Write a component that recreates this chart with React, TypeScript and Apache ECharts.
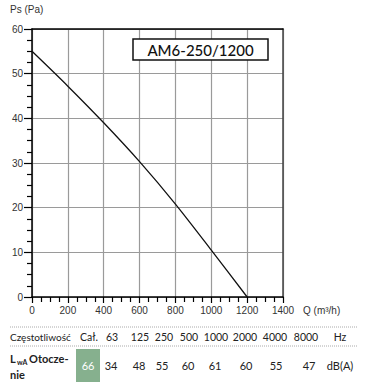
import React, { useEffect, useRef } from "react";
import * as echarts from "echarts";

const flowQ = [0, 200, 400, 600, 800, 1000, 1200];
const pressurePs = [55, 47.2, 39, 30.3, 20.8, 10.5, 0];
const freqLabels = ["Cał.", "63", "125", "250", "500", "1000", "2000", "4000", "8000", "Hz"];
const lwaValues = ["66", "34", "48", "55", "60", "61", "60", "55", "47", "dB(A)"];
const freqX = [89, 112, 140, 164, 189, 216, 245, 275, 306, 340];
const lwaX = [88, 111, 139, 162, 188, 215, 246, 276, 309, 340];
const modelName = "AM6-250/1200";

export default function App() {
  const ref = useRef<HTMLDivElement>(null);
  useEffect(() => {
    const chart = echarts.init(ref.current!, null, { renderer: "svg" });
    const tableFont = "Lato, 'Open Sans', sans-serif";
    const graphics: any[] = [
      {
        type: "text",
        left: 10,
        top: 4,
        style: { text: "Ps (Pa)", fontSize: 10, fontFamily: "'Liberation Sans', Arial", fill: "#333" },
      },
      {
        type: "text",
        left: 303,
        top: 305,
        style: { text: "Q (m³/h)", fontSize: 10, fontFamily: "'Liberation Sans', Arial", fill: "#333" },
      },
      {
        type: "rect",
        shape: { x: 133, y: 39, width: 135, height: 21 },
        style: { fill: "#fff", stroke: "#111", lineWidth: 1.5 },
        z: 10,
      },
      {
        type: "text",
        x: 200.5,
        y: 50,
        style: {
          text: modelName,
          fontSize: 15,
          fontFamily: tableFont,
          fontWeight: 500,
          fill: "#111",
          align: "center",
          verticalAlign: "middle",
        },
        z: 11,
      },
      {
        type: "line",
        shape: { x1: 10, y1: 327, x2: 358, y2: 327 },
        style: { stroke: "#aaa", lineWidth: 1, lineDash: [1, 1] },
      },
      {
        type: "line",
        shape: { x1: 10, y1: 346, x2: 358, y2: 346 },
        style: { stroke: "#aaa", lineWidth: 1, lineDash: [1, 1] },
      },
      {
        type: "text",
        x: 10,
        y: 337,
        style: { text: "Częstotliwość", fontSize: 10, fontFamily: tableFont, fill: "#222", verticalAlign: "middle" },
      },
      {
        type: "rect",
        shape: { x: 76, y: 349, width: 24, height: 33 },
        style: { fill: "#86b08e" },
      },
      {
        type: "text",
        x: 10,
        y: 358,
        style: { text: "L", fontSize: 11, fontWeight: "bold", fontFamily: tableFont, fill: "#222", verticalAlign: "middle" },
      },
      {
        type: "text",
        x: 17,
        y: 362,
        style: { text: "wA", fontSize: 7, fontWeight: "bold", fontFamily: tableFont, fill: "#222", verticalAlign: "middle" },
      },
      {
        type: "text",
        x: 29,
        y: 358,
        style: { text: "Otocze-", fontSize: 11, fontWeight: "bold", fontFamily: tableFont, fill: "#222", verticalAlign: "middle" },
      },
      {
        type: "text",
        x: 10,
        y: 374,
        style: { text: "nie", fontSize: 11, fontWeight: "bold", fontFamily: tableFont, fill: "#222", verticalAlign: "middle" },
      },
    ];
    freqLabels.forEach((t, i) => {
      graphics.push({
        type: "text",
        x: freqX[i],
        y: 337,
        style: { text: t, fontSize: 10.5, fontFamily: tableFont, fill: "#222", align: "center", verticalAlign: "middle" },
      });
    });
    lwaValues.forEach((t, i) => {
      graphics.push({
        type: "text",
        x: lwaX[i],
        y: 365,
        style: {
          text: t,
          fontSize: 11,
          fontFamily: tableFont,
          fill: i === 0 ? "#fff" : "#222",
          align: "center",
          verticalAlign: "middle",
        },
        z: 5,
      });
    });

    chart.setOption({
      animation: false,
      grid: { left: 32, right: 89, top: 29, bottom: 95, containLabel: false },
      xAxis: [
        {
          type: "value",
          min: 0,
          max: 1400,
          interval: 200,
          axisLine: { lineStyle: { color: "#000", width: 1.5 } },
          axisTick: { show: true, length: 6, lineStyle: { color: "#000", width: 1.2 } },
          minorTick: { show: true, splitNumber: 4, length: 5, lineStyle: { color: "#000", width: 1.2 } },
          axisLabel: {
            color: "#333",
            fontSize: 10,
            fontFamily: "'Liberation Sans', Arial",
            margin: 8,
            formatter: (v: number) => String(v),
          },
          splitLine: { show: true, lineStyle: { color: "#9a9a9a", width: 1.2 } },
        },
        {
          type: "value",
          position: "top",
          min: 0,
          max: 1400,
          axisLine: { show: true, onZero: false, lineStyle: { color: "#000", width: 1.5 } },
          axisTick: { show: false },
          axisLabel: { show: false },
          splitLine: { show: false },
        },
      ],
      yAxis: [
        {
          type: "value",
          min: 0,
          max: 60,
          interval: 10,
          axisLine: { show: true, lineStyle: { color: "#000", width: 1.5 } },
          axisTick: { show: true, length: 8, lineStyle: { color: "#000", width: 1.2 } },
          minorTick: { show: true, splitNumber: 4, length: 5, lineStyle: { color: "#000", width: 1.2 } },
          axisLabel: {
            color: "#333",
            fontSize: 10,
            fontFamily: "'Liberation Sans', Arial",
            margin: 9,
            formatter: (v: number) => String(v),
          },
          splitLine: { show: true, lineStyle: { color: "#9a9a9a", width: 1.2 } },
        },
        {
          type: "value",
          position: "right",
          min: 0,
          max: 60,
          axisLine: { show: true, onZero: false, lineStyle: { color: "#444", width: 1.5 } },
          axisTick: { show: false },
          axisLabel: { show: false },
          splitLine: { show: false },
        },
      ],
      graphic: graphics,
      series: [
        {
          type: "line",
          data: flowQ.map((q, i) => [q, pressurePs[i]]),
          smooth: 0.3,
          symbol: "none",
          lineStyle: { color: "#111", width: 1.3 },
          z: 3,
        },
      ],
    });
    return () => chart.dispose();
  }, []);
  return <div ref={ref} style={{ width: 372, height: 392, position: "absolute", left: 0, top: 0 }} />;
}
